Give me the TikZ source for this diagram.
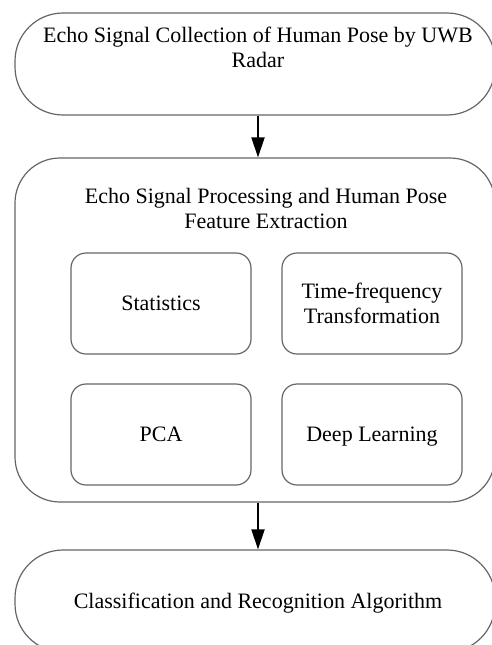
\documentclass[tikz,border=0pt]{standalone}
\usepackage{fontspec}
\setmainfont{Liberation Serif}
\usetikzlibrary{arrows.meta}
\begin{document}
\begin{tikzpicture}[x=1pt,y=-1pt,font=\fontsize{22}{25}\selectfont,
	line join=round,line cap=round,
	>={Triangle[width=13pt,length=20pt]},
	stage/.style={draw=black!60,line width=1.2pt,inner sep=0pt,minimum width=480pt},
	method/.style={draw=black!60,line width=1.2pt,inner sep=0pt,rounded corners=15pt,
		minimum width=180pt,minimum height=101pt,align=center},
	flow/.style={->,line width=2pt,line cap=butt}]
	\clip (0,0) rectangle (492,645);
	% three stages
	\node[stage,rounded corners=48pt,minimum height=102pt] (collect) at (255,64) {};
	\node[stage,rounded corners=45pt,minimum height=344pt] (process) at (255,330) {};
	\node[stage,rounded corners=48pt,minimum height=102pt] (classify) at (255,601) {};
	\node[anchor=base,align=center] (collect-txt) at (258,67)
	{Echo Signal Collection of Human Pose by UWB\\Radar};
	\node[anchor=base,align=center] (process-txt) at (266,228)
	{Echo Signal Processing and Human Pose\\Feature Extraction};
	\node[anchor=base] (classify-txt) at (258,608)
	{Classification and Recognition Algorithm};
	% feature extraction methods
	\node[method] (stat) at (161,303.5) {Statistics};
	\node[method] (tf) at (372,303.5) {Time-frequency\\Transformation};
	\node[method] (pca) at (161,434.5) {PCA};
	\node[method,text depth=0pt] (dl) at (372,434.5) {Deep Learning};
	\draw[flow] ([xshift=3pt]collect.south) -- ([xshift=3pt]process.north);
	\draw[flow] ([xshift=3pt]process.south) -- ([xshift=3pt]classify.north);
\end{tikzpicture}
\end{document}
